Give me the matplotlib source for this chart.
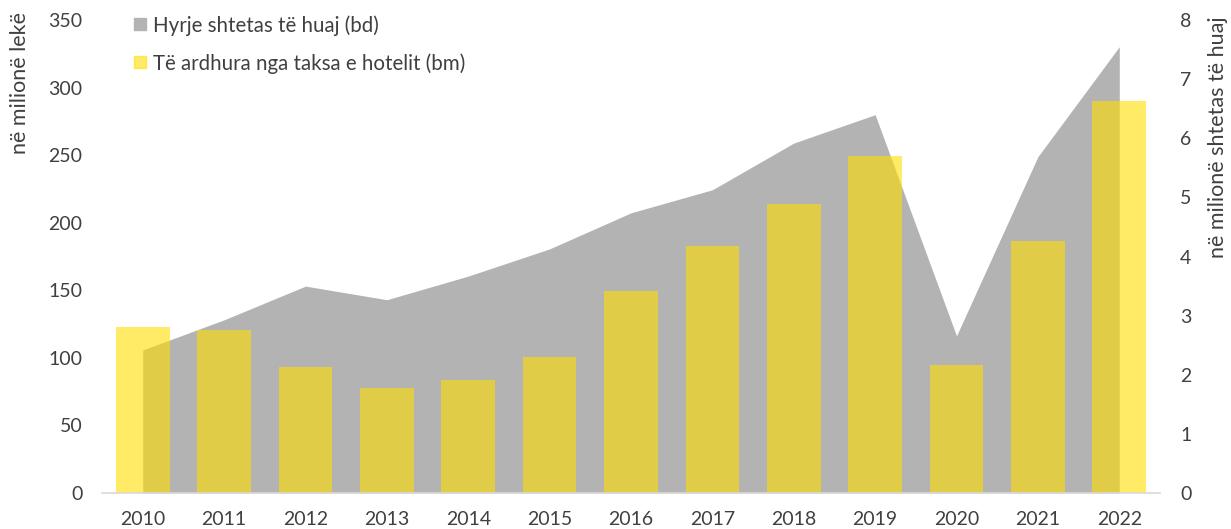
import matplotlib.pyplot as plt
import numpy as np

# ==========================
# Data
# ==========================

years = ["2010", "2011", "2012", "2013", "2014", "2015", "2016",
         "2017", "2018", "2019", "2020", "2021", "2022"]

# Të ardhura nga taksa e hotelit, milionë lekë (left axis)
hotel_tax = [123, 121, 93, 78, 84, 101, 149.5, 183, 214, 249.5, 95, 186.5, 290]

# Hyrje shtetas të huaj, milionë (right axis)
arrivals = [2.42, 2.93, 3.50, 3.27, 3.67, 4.13, 4.74, 5.13, 5.92, 6.40, 2.66, 5.69, 7.55]

left_ticks = [0, 50, 100, 150, 200, 250, 300, 350]
right_ticks = [0, 1, 2, 3, 4, 5, 6, 7, 8]

# ==========================
# Style
# ==========================

plt.rcParams["font.family"] = ["Lato", "DejaVu Sans"]
TEXT = "#404040"
GRAY = "#B3B3B3"
YELLOW = "#FFDE00"
TICK_SIZE = 14
LABEL_SIZE = 15.5

x = np.arange(len(years))

fig = plt.figure(figsize=(12.31, 5.29), dpi=100)
ax = fig.add_axes([0.0829, 0.068, 0.8594, 0.894])
ax2 = ax.twinx()

# area on the right axis, drawn behind the bars
ax2.fill_between(x, 0, arrivals, color=GRAY, linewidth=0, zorder=1)
ax2.set_ylim(0, 8)
ax2.set_yticks(right_ticks)

ax.set_zorder(ax2.get_zorder() + 1)
ax.patch.set_visible(False)

ax.bar(x, hotel_tax, width=0.66, color=YELLOW, alpha=0.6, linewidth=0, zorder=2)
ax.set_ylim(0, 350)
ax.set_yticks(left_ticks)
ax.set_xlim(-0.5, len(years) - 0.5)
ax.set_xticks(x)
ax.set_xticklabels(years)

for a in (ax, ax2):
    for s in a.spines.values():
        s.set_visible(False)
    a.tick_params(length=0, labelsize=TICK_SIZE, colors=TEXT)

ax.spines["bottom"].set_visible(True)
ax.spines["bottom"].set_color("#D9D9D9")
ax.spines["bottom"].set_linewidth(1.2)

ax.tick_params(axis="x", pad=13)
ax.tick_params(axis="y", pad=14)
ax2.tick_params(axis="y", pad=14.5)

# axis titles, aligned to the top like in the source
fig.text(20 / 1231, 1 - 12 / 529, "në milionë lekë", rotation=90,
         ha="center", va="top", fontsize=LABEL_SIZE, color=TEXT)
fig.text(1218 / 1231, 1 - 16 / 529, "në milionë shtetas të huaj", rotation=90,
         ha="center", va="top", fontsize=LABEL_SIZE, color=TEXT)

# legend
h1 = plt.Line2D([], [], marker="s", linestyle="", color=GRAY, markersize=9)
h2 = plt.Line2D([], [], marker="s", linestyle="", color=YELLOW, alpha=0.6,
                markersize=9)
leg = ax.legend([h1, h2],
                ["Hyrje shtetas të huaj (bd)", "Të ardhura nga taksa e hotelit (bm)"],
                loc="upper left", bbox_to_anchor=(0.013, 1.05), frameon=False,
                fontsize=14.8, handlelength=0.6, handletextpad=0.3,
                labelspacing=0.85, labelcolor=TEXT)

fig.savefig("out.png", dpi=100)
